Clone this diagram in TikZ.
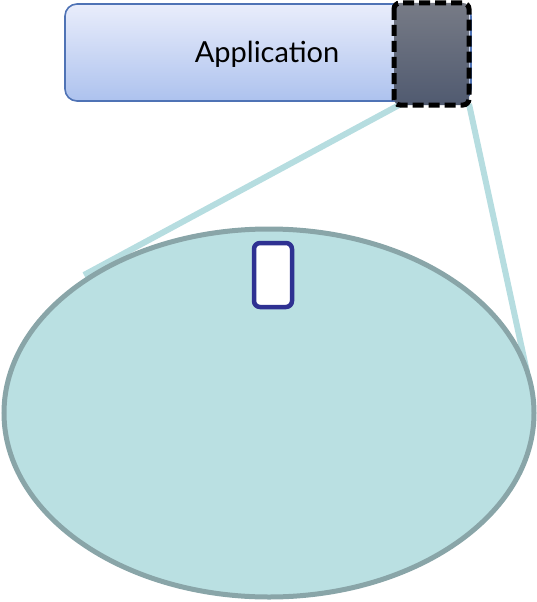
\documentclass[tikz,border=0pt]{standalone}
\usepackage{fontspec}
\setmainfont{Lato}
\begin{document}
\begin{tikzpicture}[x=1pt,y=-1pt,
  appbox/.style={rounded corners=12pt, draw=appedge, line width=1.6pt,
    top color=apptop, bottom color=appbottom},
  focus/.style={rounded corners=6pt, draw=black, line width=5pt,
    dash pattern=on 11pt off 5pt, top color=focustop, bottom color=focusbottom},
  zoomline/.style={draw=zoomcol, line width=6pt},
  lens/.style={draw=lensedge, fill=lensfill, line width=5pt},
  slot/.style={rounded corners=6pt, draw=slotcol, fill=white, line width=4.5pt}]
\definecolor{appedge}{HTML}{4F73B5}
\definecolor{apptop}{HTML}{E9EDFB}
\definecolor{appbottom}{HTML}{ADC2EE}
\definecolor{focustop}{HTML}{777B86}
\definecolor{focusbottom}{HTML}{505A70}
\definecolor{zoomcol}{HTML}{B6DDE0}
\definecolor{lensedge}{HTML}{89A5A8}
\definecolor{lensfill}{HTML}{BAE0E2}
\definecolor{slotcol}{HTML}{2E3192}
\useasboundingbox (0,0) rectangle (537,602);
% application bar with its highlighted end
\draw[appbox] (65,4) rectangle (471,101);
\node[font=\fontsize{29}{34}\selectfont, anchor=center] (app) at (267,54) {Application};
\coordinate (fl) at (401,104);
\coordinate (fr) at (469,104);
% zoom rays into the lens
\coordinate (ll) at (84,275);
\coordinate (lr) at (527,372);
\draw[zoomline] (fl) -- (ll);
\draw[zoomline] (fr) -- (lr);
% magnified view
\draw[lens] (269,413) ellipse [x radius=265, y radius=184];
\draw[slot] (254,243) rectangle (292,307);
\draw[focus] (394,3) rectangle (469,105);
\end{tikzpicture}
\end{document}
